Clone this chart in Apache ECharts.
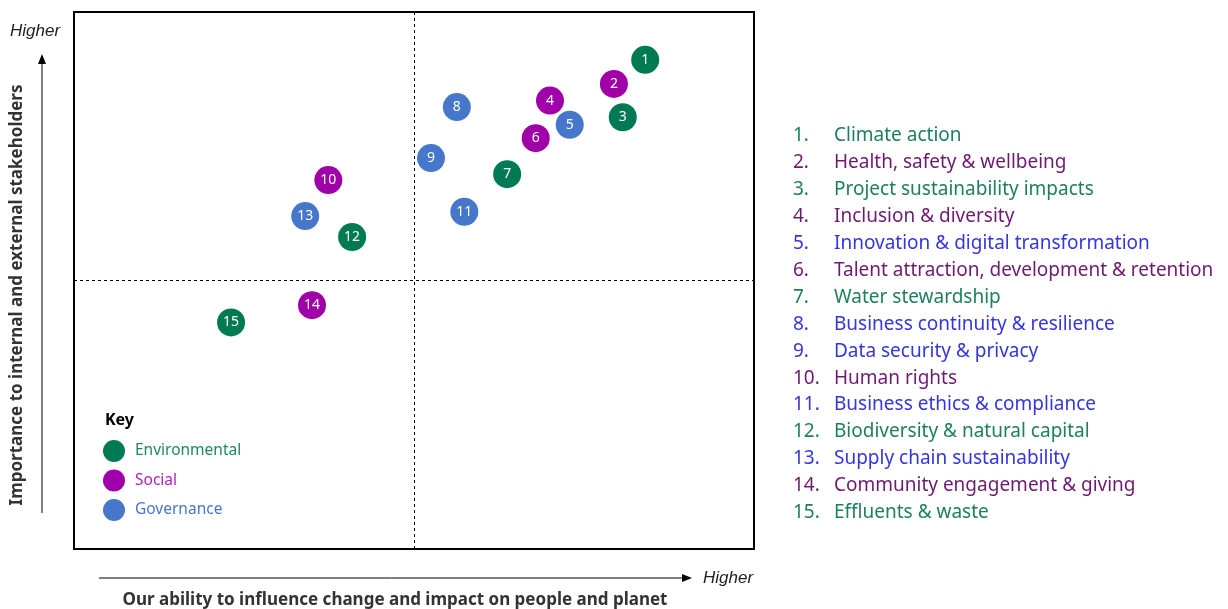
<!DOCTYPE html>
<html>
<head>
<meta charset="utf-8">
<script src="https://cdn.jsdelivr.net/npm/echarts@6/dist/echarts.min.js"></script>
<style>
  html, body { margin: 0; padding: 0; background: #fff; }
  #chart { width: 1228px; height: 609px; }
</style>
</head>
<body>
<div id="chart"></div>
<script>
// issues, in list order
var ids = [1, 2, 3, 4, 5, 6, 7, 8, 9, 10, 11, 12, 13, 14, 15];
var names = ['Climate action', 'Health, safety & wellbeing', 'Project sustainability impacts',
  'Inclusion & diversity', 'Innovation & digital transformation',
  'Talent attraction, development & retention', 'Water stewardship',
  'Business continuity & resilience', 'Data security & privacy', 'Human rights',
  'Business ethics & compliance', 'Biodiversity & natural capital',
  'Supply chain sustainability', 'Community engagement & giving', 'Effluents & waste'];
var groups = ['Environmental', 'Social', 'Environmental', 'Social', 'Governance', 'Social',
  'Environmental', 'Governance', 'Governance', 'Social', 'Governance', 'Environmental',
  'Governance', 'Social', 'Environmental'];
// influence (x) and importance (y), 0-10
var influence = [8.40, 7.94, 8.07, 7.00, 7.29, 6.79, 6.37, 5.63, 5.25, 3.74, 5.74, 4.09, 3.40, 3.50, 2.31];
var importance = [9.11, 8.66, 8.04, 8.35, 7.90, 7.65, 6.98, 8.23, 7.28, 6.87, 6.28, 5.81, 6.20, 4.54, 4.22];

var groupNames = ['Environmental', 'Social', 'Governance'];
var dotColor = { Environmental: '#007A53', Social: '#A000A8', Governance: '#4677CB' };
var keyColor = { Environmental: '#1E8A60', Social: '#B51DBE', Governance: '#4677CB' };
var listColor = { Environmental: '#1E8060', Social: '#6E1A70', Governance: '#3535E0' };

var FONT = 'Noto Sans';
var ITALIC = 'Liberation Sans';

var myChart = echarts.init(document.getElementById('chart'));

var series = groupNames.map(function (g, gi) {
  var pts = [];
  ids.forEach(function (id, i) {
    if (groups[i] === g) pts.push([influence[i], importance[i], id]);
  });
  var s = {
    name: g,
    type: 'scatter',
    data: pts,
    symbolSize: 28,
    itemStyle: { color: dotColor[g], opacity: 1 },
    label: {
      show: true,
      position: 'inside',
      color: '#fff',
      fontFamily: FONT,
      fontSize: 14,
      formatter: function (p) { return p.value[2]; }
    },
    z: 3
  };
  if (gi === 0) {
    // quadrant dividers
    s.markLine = {
      silent: true,
      symbol: 'none',
      label: { show: false },
      lineStyle: { color: '#000', type: [3, 3], width: 1 },
      data: [{ xAxis: 5 }, { yAxis: 5 }]
    };
  }
  return s;
});

// right-hand numbered list + axes decorations
var graphics = [];
ids.forEach(function (id, i) {
  var y = 136 + i * 26.9;
  graphics.push({
    type: 'text', x: 793, y: y,
    style: { text: id + '.', fill: listColor[groups[i]], font: '19px "' + FONT + '"', verticalAlign: 'middle' }
  });
  graphics.push({
    type: 'text', x: 834, y: y,
    style: { text: names[i], fill: listColor[groups[i]], font: '19px "' + FONT + '"', verticalAlign: 'middle' }
  });
});

graphics.push(
  { type: 'text', x: 10, y: 31,
    style: { text: 'Higher', fill: '#222', font: 'italic 17px "' + ITALIC + '"', verticalAlign: 'middle' } },
  { type: 'line', shape: { x1: 42, y1: 513, x2: 42, y2: 62 }, style: { stroke: '#000', lineWidth: 1 } },
  { type: 'polygon', shape: { points: [[38, 64], [46, 64], [42, 54]] }, style: { fill: '#000' } },
  { type: 'text', x: 17, y: 295, rotation: Math.PI / 2,
    style: { text: 'Importance to internal and external stakeholders', fill: '#333',
      font: 'bold 17px "' + FONT + '"', align: 'center', verticalAlign: 'middle' } },
  { type: 'line', shape: { x1: 99, y1: 578, x2: 684, y2: 578 }, style: { stroke: '#000', lineWidth: 1 } },
  { type: 'polygon', shape: { points: [[682, 574], [682, 582], [692, 578]] }, style: { fill: '#000' } },
  { type: 'text', x: 703, y: 578,
    style: { text: 'Higher', fill: '#222', font: 'italic 17px "' + ITALIC + '"', verticalAlign: 'middle' } },
  { type: 'text', x: 395, y: 600,
    style: { text: 'Our ability to influence change and impact on people and planet', fill: '#333',
      font: 'bold 17px "' + FONT + '"', align: 'center', verticalAlign: 'middle' } },
  { type: 'text', x: 105, y: 420,
    style: { text: 'Key', fill: '#000', font: 'bold 16px "' + FONT + '"', verticalAlign: 'middle' } }
);

myChart.setOption({
  animation: false,
  grid: {
    left: 74, top: 12, width: 680, height: 537,
    show: true, borderColor: '#000', borderWidth: 2
  },
  xAxis: {
    type: 'value', min: 0, max: 10,
    axisLine: { show: false }, axisTick: { show: false },
    axisLabel: { show: false }, splitLine: { show: false }
  },
  yAxis: {
    type: 'value', min: 0, max: 10,
    axisLine: { show: false }, axisTick: { show: false },
    axisLabel: { show: false }, splitLine: { show: false }
  },
  legend: {
    orient: 'vertical',
    left: 103, top: 440,
    padding: 0,
    icon: 'circle',
    itemWidth: 32, itemHeight: 22,
    itemGap: 7.5,
    data: groupNames.map(function (g) {
      return { name: g, textStyle: { color: keyColor[g], fontFamily: FONT, fontSize: 15.5 } };
    })
  },
  graphic: graphics,
  series: series
});
</script>
</body>
</html>
